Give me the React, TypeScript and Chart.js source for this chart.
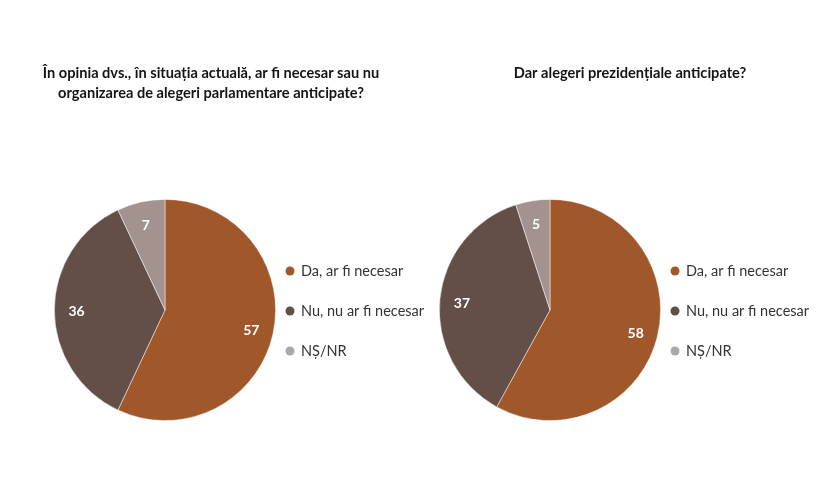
import React, { useEffect, useRef } from "react";
import { Chart, registerables } from "chart.js";

Chart.register(...registerables);

// ---- data ----
const categories = ["Da, ar fi necesar", "Nu, nu ar fi necesar", "NȘ/NR"];
const parliamentaryValues = [57, 36, 7];
const presidentialValues = [58, 37, 5];
const parliamentaryTitle = [
  "În opinia dvs., în situația actuală, ar fi necesar sau nu",
  "organizarea de alegeri parlamentare anticipate?",
];
const presidentialTitle = ["Dar alegeri prezidențiale anticipate?"];

// ---- styles ----
const sliceColors = ["#A0582B", "#634F48", "#A4928F"];
const legendColors = ["#A0582B", "#634F48", "#A9A9A9"];
const FONT = "Lato, 'Open Sans', sans-serif";

const decorPlugin = {
  id: "pieDecor",
  afterDraw(chart: any, _args: any, opts: any) {
    const ctx = chart.ctx as CanvasRenderingContext2D;
    const area = chart.chartArea;
    ctx.save();
    // title
    ctx.fillStyle = "#141414";
    ctx.font = `bold 14.6px ${FONT}`;
    ctx.textAlign = "center";
    ctx.textBaseline = "alphabetic";
    (opts.title as string[]).forEach((line, i) => {
      ctx.fillText(line, opts.titleX, opts.titleY + i * 20);
    });
    // data labels
    const meta = chart.getDatasetMeta(0);
    const values = chart.data.datasets[0].data as number[];
    ctx.fillStyle = "#ffffff";
    ctx.font = `bold 14px ${FONT}`;
    ctx.textAlign = "center";
    ctx.textBaseline = "middle";
    meta.data.forEach((arc: any, i: number) => {
      const p = arc.getProps(["x", "y", "startAngle", "endAngle", "outerRadius"], true);
      const mid = (p.startAngle + p.endAngle) / 2;
      const r = p.outerRadius * 0.8;
      ctx.fillText(String(values[i]), p.x + Math.cos(mid) * r, p.y + Math.sin(mid) * r + 1.5);
    });
    // legend
    const cy = (area.top + area.bottom) / 2;
    const mx = area.right + 14;
    ctx.font = `14.5px ${FONT}`;
    ctx.textAlign = "left";
    ctx.textBaseline = "middle";
    (chart.data.labels as string[]).forEach((label, i) => {
      const y = cy - 39 + i * 40;
      ctx.beginPath();
      ctx.fillStyle = opts.legendColors[i];
      ctx.arc(mx, y, 4.5, 0, Math.PI * 2);
      ctx.fill();
      ctx.fillStyle = "#333333";
      ctx.fillText(label, mx + 11, y + 0.5);
    });
    ctx.restore();
  },
};

function PieChart(props: {
  values: number[];
  title: string[];
  titleX: number;
  padding: { left: number; right: number; top: number; bottom: number };
  style: React.CSSProperties;
}) {
  const ref = useRef<HTMLCanvasElement | null>(null);
  useEffect(() => {
    if (!ref.current) return;
    const chart = new Chart(ref.current, {
      type: "pie",
      data: {
        labels: categories,
        datasets: [
          {
            data: props.values,
            backgroundColor: sliceColors,
            borderColor: "rgba(255,255,255,0.6)",
            borderWidth: 0.8,
          },
        ],
      },
      options: {
        animation: false,
        responsive: false,
        devicePixelRatio: 1,
        layout: { padding: props.padding },
        plugins: {
          legend: { display: false },
          title: { display: false },
          tooltip: { enabled: false },
          // @ts-ignore
          pieDecor: {
            title: props.title,
            titleX: props.titleX,
            titleY: 78,
            legendColors,
          },
        },
      },
      plugins: [decorPlugin as any],
    });
    return () => chart.destroy();
  }, []);
  return (
    <canvas
      ref={ref}
      width={props.style.width as number}
      height={493}
      style={{ position: "absolute", top: 0, ...props.style, height: 493 }}
    />
  );
}

export default function App() {
  useEffect(() => {
    document.body.style.margin = "0";
  }, []);
  return (
    <div
      style={{
        position: "fixed",
        left: 0,
        top: 0,
        width: 825,
        height: 493,
        background: "#ffffff",
        overflow: "hidden",
      }}
    >
      <PieChart
        values={parliamentaryValues}
        title={parliamentaryTitle}
        titleX={211}
        padding={{ left: 54, right: 159, top: 199, bottom: 72 }}
        style={{ left: 0, width: 435 }}
      />
      <PieChart
        values={presidentialValues}
        title={presidentialTitle}
        titleX={195}
        padding={{ left: 4, right: 164, top: 199, bottom: 72 }}
        style={{ left: 435, width: 390 }}
      />
    </div>
  );
}
